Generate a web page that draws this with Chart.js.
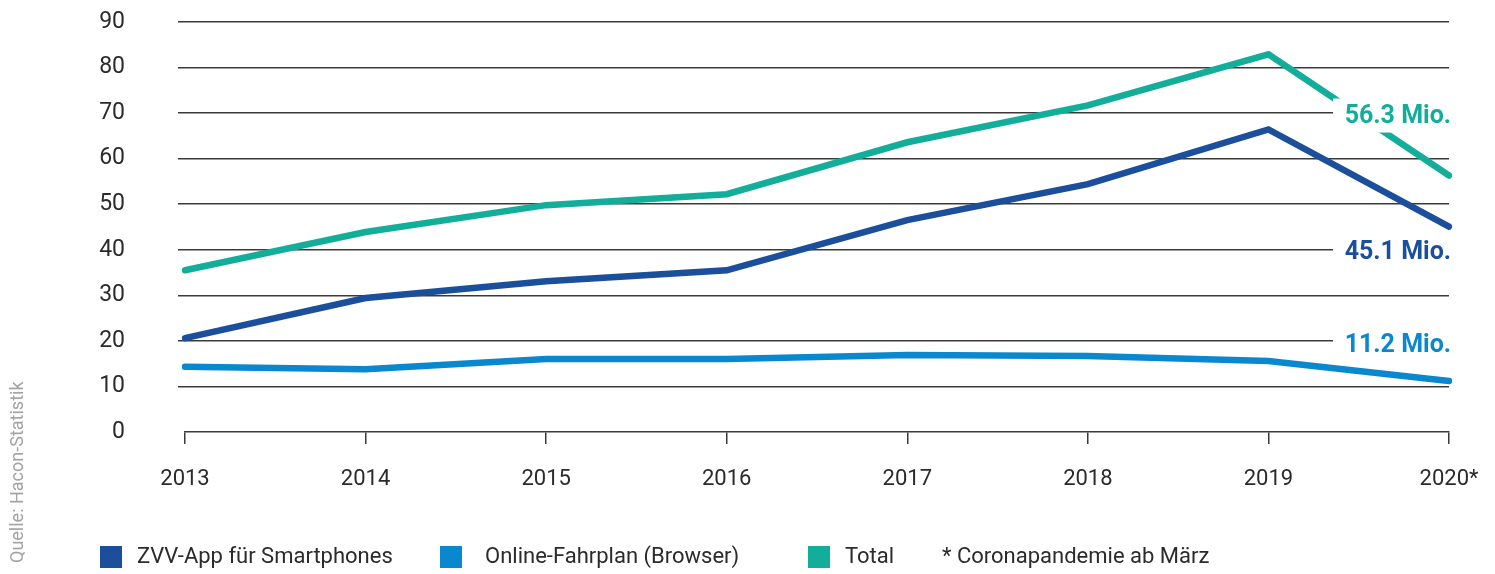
<!DOCTYPE html>
<html>
<head>
<meta charset="utf-8">
<script src="https://cdn.jsdelivr.net/npm/chart.js@4/dist/chart.umd.min.js"></script>
<style>
    html, body { margin: 0; padding: 0; background: #fff; }
    #wrap { position: relative; width: 1495px; height: 574px; overflow: hidden; }
    #chart { position: absolute; left: 0; top: 0; }
    .font { font-family: "Roboto", sans-serif; color: #2b2b2b; }
    #legend { position: absolute; top: 543px; left: 0; font-size: 22px; }
    #legend span { position: absolute; white-space: nowrap; line-height: 26px; }
    #legend i { position: absolute; width: 22px; height: 22px; top: 3px; }
    #source {
        position: absolute; left: 6px; top: 563px; font-size: 18px; color: #a3a3a3;
        transform: rotate(-90deg); transform-origin: 0 0; white-space: nowrap;
        font-family: "Roboto", sans-serif;
    }
</style>
</head>
<body>
<div id="wrap">
    <canvas id="chart" width="1495" height="574"></canvas>
    <div id="source">Quelle: Hacon-Statistik</div>
    <div id="legend" class="font"></div>
</div>
<script>
const years       = ['2013', '2014', '2015', '2016', '2017', '2018', '2019', '2020*']
const appValues   = [20.6, 29.4, 33.1, 35.5, 46.5, 54.4, 66.4, 45.1]
const webValues   = [14.3, 13.8, 16.0, 16.0, 16.9, 16.7, 15.6, 11.2]
const totalValues = [35.5, 43.9, 49.8, 52.2, 63.6, 71.7, 82.9, 56.3]
const seriesNames = ['ZVV-App für Smartphones', 'Online-Fahrplan (Browser)', 'Total']
const footnote    = '* Coronapandemie ab März'

const colors = ['#1b4f9b', '#0a88cf', '#13ae99']
const fontFamily = '"Roboto", sans-serif'
const textColor = '#2b2b2b'
const gridColor = '#3a3a3a'

// end labels with a white box behind them, like the print version
const endLabels = {
    id: 'endLabels',
    afterDatasetsDraw(chart) {
        const ctx = chart.ctx
        const x = chart.scales.x
        const y = chart.scales.y
        ctx.save()
        ctx.font = 'bold 25px ' + fontFamily
        ctx.textAlign = 'right'
        ctx.textBaseline = 'middle'
        chart.data.datasets.forEach(ds => {
            const last = ds.data.length - 1
            const v = ds.data[last]
            const py = y.getPixelForValue(v) + ds.labelOffset
            const right = x.getPixelForValue(last) + 2
            ctx.fillStyle = '#fff'
            ctx.fillRect(right - 118, py - 17, 124, 34)
            ctx.fillStyle = ds.borderColor
            ctx.fillText(v.toFixed(1) + ' Mio.', right, py + 1)
        })
        ctx.restore()
    }
}

const lineStyle = {
    borderWidth: 6.5,
    pointRadius: 0,
    tension: 0,
    borderCapStyle: 'round',
    fill: false,
}

new Chart(document.getElementById('chart'), {
    type: 'line',
    data: {
        labels: years,
        datasets: [
            { ...lineStyle, label: seriesNames[2], data: totalValues, borderColor: colors[2], labelOffset: -60 },
            { ...lineStyle, label: seriesNames[0], data: appValues,   borderColor: colors[0], labelOffset: 25 },
            { ...lineStyle, label: seriesNames[1], data: webValues,   borderColor: colors[1], labelOffset: -36 },
        ]
    },
    options: {
        responsive: false,
        animation: false,
        layout: { padding: { top: 22, right: 46, bottom: 72, left: 0 } },
        plugins: {
            legend: { display: false },
            tooltip: { enabled: false },
        },
        scales: {
            x: {
                offset: false,
                afterFit: scale => {
                    scale.height = 70
                    scale.paddingLeft = 0
                    scale.paddingRight = 0
                },
                border: { display: true, color: gridColor, width: 1.5 },
                grid: { drawOnChartArea: false, color: gridColor, lineWidth: 1.5, tickLength: 12 },
                ticks: { color: textColor, font: { family: fontFamily, size: 22 }, padding: 22, maxRotation: 0 },
            },
            y: {
                min: 0,
                max: 90,
                afterFit: scale => {
                    scale.width = 185
                    scale.paddingTop = 13
                    scale.paddingBottom = 13
                },
                border: { display: false },
                grid: {
                    color: ctx => ctx.tick && ctx.tick.value === 0 ? 'rgba(0,0,0,0)' : gridColor,
                    lineWidth: 1.5,
                    tickLength: 7,
                },
                ticks: { stepSize: 10, color: textColor, font: { family: fontFamily, size: 23 }, padding: 53 },
            }
        }
    },
    plugins: [endLabels]
})

// legend below the chart
const legend = document.getElementById('legend')
const legendItems = [
    { text: seriesNames[0], color: colors[0], box: 100, label: 137 },
    { text: seriesNames[1], color: colors[1], box: 440, label: 485 },
    { text: seriesNames[2], color: colors[2], box: 808, label: 845 },
    { text: footnote, color: null, box: null, label: 942 },
]
legendItems.forEach(item => {
    if (item.color) {
        const sq = document.createElement('i')
        sq.style.left = item.box + 'px'
        sq.style.background = item.color
        legend.appendChild(sq)
    }
    const t = document.createElement('span')
    t.style.left = item.label + 'px'
    t.textContent = item.text
    legend.appendChild(t)
})
</script>
</body>
</html>
